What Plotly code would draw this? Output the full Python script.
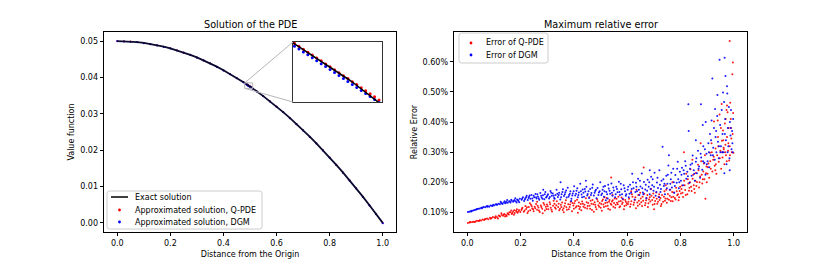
import plotly.graph_objects as go

# ---------------- data : left panel ----------------
distance = [0.0, 0.025, 0.05, 0.075, 0.1, 0.125, 0.15, 0.175, 0.2, 0.225, 0.25, 0.275, 0.3, 0.325, 0.35,
            0.375, 0.4, 0.425, 0.45, 0.475,
            0.4805, 0.482, 0.4835, 0.485, 0.4865, 0.488, 0.4895, 0.491, 0.4925, 0.494, 0.4955, 0.497,
            0.4985, 0.5, 0.5015, 0.503, 0.5045, 0.506, 0.5075, 0.509,
            0.525, 0.55, 0.575, 0.6, 0.625, 0.65, 0.675, 0.7, 0.725, 0.75, 0.775, 0.8, 0.825, 0.85,
            0.875, 0.9, 0.925, 0.95, 0.975, 1.0]
exact_value = [0.05, 0.049969, 0.049875, 0.049719, 0.0495, 0.049219, 0.048875, 0.048469, 0.048, 0.047469,
               0.046875, 0.046219, 0.0455, 0.044719, 0.043875, 0.042969, 0.042, 0.040969, 0.039875, 0.038719,
               0.038456, 0.038384, 0.038311, 0.038239, 0.038166, 0.038093, 0.038019, 0.037946, 0.037872,
               0.037798, 0.037724, 0.03765, 0.037575, 0.0375, 0.037425, 0.03735, 0.037274, 0.037198,
               0.037122, 0.037046,
               0.036219, 0.034875, 0.033469, 0.032, 0.030469, 0.028875, 0.027219, 0.0255, 0.023719, 0.021875,
               0.019969, 0.018, 0.015969, 0.013875, 0.011719, 0.0095, 0.007219, 0.004875, 0.002469, 0.0]
qpde_value = [0.050005, 0.049975, 0.04988, 0.049722, 0.049508, 0.049221, 0.04888, 0.04847, 0.048006, 0.047472,
              0.04688, 0.046221, 0.045505, 0.044722, 0.043879, 0.042972, 0.042004, 0.040972, 0.039878, 0.038722,
              0.038466, 0.038391, 0.038321, 0.038246, 0.038176, 0.0381, 0.038029, 0.037953, 0.037882,
              0.037805, 0.037734, 0.037657, 0.037585, 0.037507, 0.037435, 0.037357, 0.037284, 0.037205,
              0.037132, 0.037053,
              0.036222, 0.034878, 0.033472, 0.032003, 0.030472, 0.028878, 0.027222, 0.025503, 0.023722,
              0.021878, 0.019972, 0.018003, 0.015972, 0.013878, 0.011722, 0.009503, 0.007222, 0.004878,
              0.002472, 0.000003]
dgm_value = [0.04994, 0.049909, 0.049815, 0.049659, 0.04944, 0.049159, 0.048815, 0.048409, 0.04794, 0.047409,
             0.046815, 0.046159, 0.04544, 0.044659, 0.043815, 0.042909, 0.04194, 0.040909, 0.039815, 0.038659,
             0.038396, 0.038324, 0.038251, 0.038179, 0.038106, 0.038033, 0.037959, 0.037886, 0.037812,
             0.037738, 0.037664, 0.03759, 0.037515, 0.03744, 0.037365, 0.03729, 0.037214, 0.037138,
             0.037062, 0.036986,
             0.036159, 0.034815, 0.033409, 0.03194, 0.030409, 0.028815, 0.027159, 0.02544, 0.023659,
             0.021815, 0.019909, 0.01794, 0.015909, 0.013815, 0.011659, 0.00944, 0.007159, 0.004815,
             0.002409, -0.00006]

# ---------------- data : right panel (distance, relative error in %) ----------------
qpde_error = [
    (0.002, 0.065), (0.008, 0.066), (0.013, 0.067), (0.019, 0.068), (0.024, 0.069), (0.031, 0.070),
    (0.036, 0.072), (0.041, 0.071), (0.047, 0.074), (0.052, 0.073), (0.058, 0.076), (0.063, 0.075),
    (0.069, 0.078), (0.074, 0.080), (0.079, 0.077), (0.085, 0.082), (0.091, 0.081), (0.096, 0.085),
    (0.102, 0.083), (0.107, 0.087), (0.112, 0.084), (0.118, 0.090), (0.123, 0.086), (0.129, 0.092),
    (0.134, 0.089), (0.139, 0.095), (0.145, 0.091), (0.151, 0.097), (0.156, 0.093), (0.162, 0.100),
    (0.167, 0.095), (0.172, 0.103), (0.178, 0.098), (0.183, 0.105), (0.189, 0.099), (0.194, 0.108),
    (0.199, 0.101), (0.115, 0.080), (0.148, 0.088), (0.175, 0.092), (0.186, 0.110), (0.165, 0.106),
    (0.128, 0.097), (0.010, 0.068), (0.028, 0.068), (0.045, 0.072), (0.066, 0.077), (0.088, 0.079),
    (0.105, 0.081), (0.121, 0.088), (0.137, 0.092), (0.153, 0.095), (0.169, 0.098), (0.185, 0.102),
    (0.192, 0.104), (0.158, 0.100), (0.142, 0.086), (0.176, 0.107),
    (0.203, 0.108), (0.207, 0.115), (0.212, 0.102), (0.218, 0.121), (0.221, 0.111), (0.226, 0.098),
    (0.231, 0.118), (0.236, 0.107), (0.239, 0.125), (0.244, 0.113), (0.249, 0.104), (0.253, 0.119),
    (0.258, 0.128), (0.262, 0.109), (0.267, 0.116), (0.272, 0.101), (0.276, 0.123), (0.281, 0.112),
    (0.286, 0.131), (0.291, 0.106), (0.295, 0.119), (0.299, 0.126), (0.304, 0.110), (0.309, 0.134),
    (0.313, 0.115), (0.318, 0.103), (0.322, 0.122), (0.327, 0.129), (0.332, 0.112), (0.336, 0.137),
    (0.341, 0.118), (0.345, 0.107), (0.351, 0.125), (0.356, 0.133), (0.361, 0.114), (0.365, 0.121),
    (0.370, 0.140), (0.374, 0.109), (0.379, 0.127), (0.384, 0.118), (0.388, 0.135), (0.393, 0.104),
    (0.398, 0.123), (0.402, 0.130), (0.407, 0.116), (0.412, 0.142), (0.417, 0.121), (0.421, 0.111),
    (0.426, 0.128), (0.431, 0.136), (0.436, 0.119), (0.440, 0.125), (0.445, 0.147), (0.450, 0.113),
    (0.454, 0.131), (0.459, 0.122), (0.463, 0.139), (0.468, 0.108), (0.473, 0.127), (0.478, 0.134),
    (0.482, 0.118), (0.487, 0.144), (0.492, 0.124), (0.497, 0.131), (0.501, 0.115), (0.506, 0.138),
    (0.511, 0.126), (0.515, 0.150), (0.520, 0.120), (0.525, 0.133), (0.529, 0.112), (0.534, 0.141),
    (0.538, 0.129), (0.543, 0.136), (0.548, 0.119), (0.553, 0.146), (0.557, 0.125), (0.562, 0.132),
    (0.567, 0.152), (0.571, 0.117), (0.576, 0.138), (0.581, 0.128), (0.585, 0.143), (0.590, 0.121),
    (0.595, 0.135), (0.599, 0.130), (0.235, 0.130), (0.283, 0.097), (0.324, 0.139), (0.362, 0.100),
    (0.415, 0.099), (0.458, 0.150), (0.505, 0.105), (0.545, 0.158), (0.588, 0.110), (0.262, 0.135),
    (0.475, 0.102), (0.540, 0.216),
    (0.205, 0.112), (0.215, 0.106), (0.224, 0.117), (0.229, 0.104), (0.242, 0.120), (0.247, 0.110),
    (0.255, 0.114), (0.264, 0.122), (0.269, 0.106), (0.278, 0.118), (0.289, 0.125), (0.297, 0.111),
    (0.302, 0.120), (0.311, 0.127), (0.316, 0.109), (0.329, 0.116), (0.334, 0.124), (0.343, 0.129),
    (0.348, 0.112), (0.353, 0.118), (0.358, 0.108), (0.367, 0.130), (0.372, 0.117), (0.381, 0.110),
    (0.386, 0.126), (0.395, 0.131), (0.400, 0.112), (0.405, 0.138), (0.410, 0.120), (0.419, 0.133),
    (0.423, 0.118), (0.428, 0.107), (0.434, 0.129), (0.442, 0.115), (0.448, 0.134), (0.452, 0.121),
    (0.461, 0.112), (0.466, 0.129), (0.470, 0.141), (0.480, 0.125), (0.485, 0.110), (0.490, 0.137),
    (0.495, 0.119), (0.503, 0.128), (0.509, 0.143), (0.513, 0.118), (0.518, 0.131), (0.523, 0.148),
    (0.527, 0.122), (0.532, 0.135), (0.536, 0.109), (0.541, 0.125), (0.546, 0.140), (0.551, 0.131),
    (0.555, 0.115), (0.560, 0.145), (0.565, 0.127), (0.569, 0.136), (0.574, 0.120), (0.579, 0.149),
    (0.583, 0.133), (0.593, 0.141), (0.597, 0.124),
    (0.603, 0.128), (0.607, 0.145), (0.611, 0.119), (0.616, 0.137), (0.620, 0.152), (0.624, 0.125),
    (0.629, 0.141), (0.633, 0.114), (0.638, 0.133), (0.642, 0.158), (0.647, 0.127), (0.651, 0.146),
    (0.656, 0.121), (0.660, 0.139), (0.664, 0.162), (0.669, 0.131), (0.673, 0.148), (0.678, 0.118),
    (0.682, 0.143), (0.687, 0.136), (0.691, 0.155), (0.696, 0.125), (0.700, 0.149), (0.705, 0.138),
    (0.709, 0.166), (0.713, 0.129), (0.718, 0.152), (0.722, 0.141), (0.727, 0.121), (0.731, 0.158),
    (0.735, 0.135), (0.740, 0.170), (0.744, 0.146), (0.749, 0.132), (0.753, 0.161), (0.757, 0.142),
    (0.762, 0.175), (0.766, 0.150), (0.771, 0.137), (0.775, 0.166), (0.779, 0.148), (0.784, 0.182),
    (0.788, 0.157), (0.793, 0.140), (0.797, 0.171), (0.662, 0.249), (0.615, 0.170), (0.701, 0.110),
    (0.745, 0.190), (0.770, 0.200), (0.690, 0.178), (0.635, 0.175),
    (0.605, 0.135), (0.613, 0.127), (0.618, 0.160), (0.626, 0.133), (0.631, 0.150), (0.640, 0.122),
    (0.644, 0.139), (0.649, 0.165), (0.653, 0.134), (0.658, 0.152), (0.667, 0.124), (0.671, 0.140),
    (0.676, 0.158), (0.680, 0.130), (0.685, 0.150), (0.694, 0.141), (0.698, 0.163), (0.703, 0.128),
    (0.711, 0.145), (0.716, 0.135), (0.720, 0.160), (0.725, 0.148), (0.729, 0.128), (0.738, 0.152),
    (0.742, 0.139), (0.747, 0.175), (0.751, 0.145), (0.760, 0.155), (0.764, 0.138), (0.769, 0.168),
    (0.773, 0.152), (0.782, 0.143), (0.786, 0.170), (0.791, 0.160), (0.795, 0.150), (0.799, 0.185),
    (0.802, 0.163), (0.806, 0.189), (0.810, 0.151), (0.814, 0.205), (0.818, 0.174), (0.822, 0.228),
    (0.826, 0.160), (0.830, 0.196), (0.834, 0.182), (0.838, 0.243), (0.842, 0.171), (0.846, 0.212),
    (0.850, 0.190), (0.854, 0.165), (0.858, 0.231), (0.862, 0.201), (0.866, 0.258), (0.870, 0.183),
    (0.874, 0.219), (0.878, 0.270), (0.882, 0.196), (0.886, 0.236), (0.890, 0.210), (0.894, 0.145),
    (0.898, 0.252), (0.813, 0.300), (0.845, 0.275), (0.876, 0.330), (0.892, 0.290),
    (0.804, 0.178), (0.808, 0.165), (0.816, 0.190), (0.820, 0.158), (0.828, 0.210), (0.832, 0.172),
    (0.836, 0.200), (0.840, 0.185), (0.848, 0.225), (0.852, 0.178), (0.856, 0.205), (0.860, 0.188),
    (0.868, 0.240), (0.872, 0.200), (0.880, 0.225), (0.884, 0.210), (0.888, 0.262), (0.896, 0.230),
    (0.899, 0.200),
    (0.902, 0.228), (0.905, 0.262), (0.908, 0.215), (0.911, 0.298), (0.914, 0.245), (0.917, 0.330),
    (0.920, 0.236), (0.923, 0.275), (0.926, 0.402), (0.929, 0.255), (0.932, 0.312), (0.935, 0.228),
    (0.938, 0.290), (0.941, 0.350), (0.944, 0.268), (0.947, 0.425), (0.950, 0.305), (0.953, 0.245),
    (0.956, 0.338), (0.958, 0.282), (0.960, 0.372), (0.963, 0.310), (0.965, 0.260), (0.967, 0.395),
    (0.969, 0.325), (0.971, 0.290), (0.973, 0.440), (0.975, 0.350), (0.977, 0.433), (0.979, 0.305),
    (0.981, 0.380), (0.983, 0.272), (0.985, 0.669), (0.987, 0.464), (0.989, 0.410), (0.991, 0.345),
    (0.993, 0.300), (0.995, 0.559), (0.997, 0.598), (0.998, 0.430), (0.999, 0.298), (0.975, 0.455),
    (0.955, 0.460), (0.940, 0.405), (0.962, 0.315), (0.985, 0.320),
    (0.903, 0.250), (0.912, 0.270), (0.918, 0.300), (0.925, 0.285), (0.933, 0.260), (0.942, 0.320),
    (0.948, 0.280), (0.957, 0.300), (0.961, 0.340), (0.968, 0.300), (0.974, 0.270), (0.980, 0.330),
    (0.986, 0.290), (0.990, 0.380), (0.996, 0.360), (0.931, 0.240), (0.952, 0.380), (0.970, 0.410),
]
dgm_error = [
    (0.002, 0.101), (0.007, 0.102), (0.012, 0.104), (0.017, 0.105), (0.022, 0.106), (0.027, 0.108),
    (0.032, 0.109), (0.037, 0.111), (0.042, 0.112), (0.047, 0.113), (0.052, 0.115), (0.057, 0.116),
    (0.062, 0.118), (0.067, 0.117), (0.072, 0.120), (0.077, 0.121), (0.082, 0.119), (0.087, 0.123),
    (0.092, 0.122), (0.097, 0.125), (0.102, 0.124), (0.107, 0.127), (0.112, 0.125), (0.117, 0.129),
    (0.122, 0.127), (0.127, 0.131), (0.132, 0.128), (0.137, 0.133), (0.142, 0.130), (0.147, 0.135),
    (0.152, 0.132), (0.157, 0.137), (0.162, 0.133), (0.167, 0.139), (0.172, 0.135), (0.177, 0.141),
    (0.182, 0.137), (0.187, 0.143), (0.192, 0.138), (0.197, 0.145), (0.150, 0.141), (0.180, 0.147),
    (0.125, 0.135), (0.195, 0.134), (0.015, 0.103), (0.035, 0.110), (0.055, 0.114), (0.075, 0.119),
    (0.095, 0.121), (0.110, 0.126), (0.130, 0.130), (0.145, 0.132), (0.160, 0.136), (0.175, 0.138),
    (0.190, 0.141), (0.185, 0.133), (0.165, 0.142), (0.140, 0.137),
    (0.204, 0.142), (0.209, 0.150), (0.213, 0.138), (0.218, 0.147), (0.223, 0.155), (0.227, 0.141),
    (0.232, 0.152), (0.237, 0.145), (0.241, 0.158), (0.246, 0.139), (0.251, 0.150), (0.256, 0.161),
    (0.260, 0.146), (0.265, 0.153), (0.270, 0.142), (0.274, 0.164), (0.279, 0.149), (0.284, 0.157),
    (0.289, 0.144), (0.293, 0.168), (0.298, 0.152), (0.303, 0.160), (0.307, 0.146), (0.312, 0.171),
    (0.317, 0.155), (0.321, 0.163), (0.326, 0.148), (0.331, 0.158), (0.335, 0.175), (0.340, 0.151),
    (0.345, 0.165), (0.349, 0.143), (0.354, 0.160), (0.359, 0.177), (0.363, 0.154), (0.368, 0.167),
    (0.373, 0.149), (0.377, 0.182), (0.382, 0.158), (0.387, 0.170), (0.391, 0.145), (0.396, 0.163),
    (0.401, 0.187), (0.405, 0.156), (0.410, 0.172), (0.415, 0.150), (0.419, 0.166), (0.424, 0.195),
    (0.429, 0.159), (0.433, 0.176), (0.438, 0.152), (0.443, 0.169), (0.447, 0.185), (0.452, 0.161),
    (0.457, 0.148), (0.461, 0.178), (0.466, 0.164), (0.471, 0.193), (0.475, 0.156), (0.480, 0.171),
    (0.485, 0.147), (0.489, 0.181), (0.494, 0.166), (0.499, 0.200), (0.503, 0.158), (0.508, 0.175),
    (0.513, 0.152), (0.517, 0.188), (0.522, 0.168), (0.527, 0.146), (0.531, 0.179), (0.536, 0.162),
    (0.541, 0.196), (0.545, 0.155), (0.550, 0.173), (0.555, 0.150), (0.559, 0.185), (0.564, 0.167),
    (0.569, 0.202), (0.573, 0.158), (0.578, 0.177), (0.583, 0.145), (0.587, 0.190), (0.592, 0.170),
    (0.597, 0.160), (0.350, 0.200), (0.445, 0.205), (0.520, 0.140), (0.390, 0.138), (0.285, 0.175),
    (0.206, 0.146), (0.216, 0.143), (0.221, 0.151), (0.230, 0.148), (0.234, 0.156), (0.244, 0.146),
    (0.249, 0.155), (0.258, 0.150), (0.263, 0.160), (0.268, 0.147), (0.277, 0.155), (0.282, 0.145),
    (0.291, 0.160), (0.296, 0.149), (0.301, 0.156), (0.310, 0.151), (0.315, 0.165), (0.324, 0.155),
    (0.328, 0.145), (0.338, 0.162), (0.343, 0.158), (0.352, 0.150), (0.357, 0.168), (0.366, 0.160),
    (0.371, 0.173), (0.380, 0.152), (0.385, 0.162), (0.394, 0.156), (0.399, 0.170), (0.408, 0.162),
    (0.413, 0.180), (0.417, 0.158), (0.426, 0.170), (0.431, 0.150), (0.436, 0.165), (0.441, 0.178),
    (0.450, 0.156), (0.455, 0.170), (0.464, 0.158), (0.469, 0.182), (0.478, 0.165), (0.483, 0.175),
    (0.492, 0.158), (0.497, 0.170), (0.506, 0.163), (0.511, 0.185), (0.515, 0.170), (0.525, 0.160),
    (0.529, 0.192), (0.534, 0.172), (0.543, 0.165), (0.548, 0.183), (0.557, 0.160), (0.562, 0.178),
    (0.571, 0.168), (0.576, 0.195), (0.581, 0.160), (0.590, 0.180), (0.595, 0.155),
    (0.602, 0.175), (0.606, 0.150), (0.611, 0.192), (0.615, 0.165), (0.619, 0.228), (0.624, 0.180),
    (0.628, 0.143), (0.633, 0.198), (0.637, 0.170), (0.641, 0.212), (0.646, 0.158), (0.650, 0.186),
    (0.655, 0.229), (0.659, 0.166), (0.663, 0.201), (0.668, 0.176), (0.672, 0.147), (0.677, 0.208),
    (0.681, 0.185), (0.685, 0.160), (0.690, 0.218), (0.694, 0.190), (0.699, 0.172), (0.703, 0.232),
    (0.707, 0.155), (0.712, 0.199), (0.716, 0.181), (0.721, 0.240), (0.725, 0.168), (0.729, 0.205),
    (0.733, 0.318), (0.738, 0.188), (0.742, 0.160), (0.747, 0.222), (0.751, 0.195), (0.755, 0.256),
    (0.760, 0.175), (0.764, 0.210), (0.768, 0.183), (0.773, 0.245), (0.777, 0.165), (0.781, 0.224),
    (0.786, 0.198), (0.790, 0.268), (0.794, 0.180), (0.798, 0.235), (0.720, 0.150), (0.757, 0.290),
    (0.685, 0.240),
    (0.604, 0.185), (0.609, 0.162), (0.617, 0.178), (0.622, 0.200), (0.631, 0.168), (0.635, 0.185),
    (0.644, 0.175), (0.648, 0.205), (0.657, 0.180), (0.661, 0.160), (0.670, 0.192), (0.675, 0.172),
    (0.683, 0.200), (0.688, 0.178), (0.696, 0.210), (0.701, 0.185), (0.710, 0.168), (0.714, 0.215),
    (0.723, 0.192), (0.727, 0.178), (0.736, 0.210), (0.740, 0.195), (0.749, 0.180), (0.753, 0.225),
    (0.762, 0.195), (0.766, 0.232), (0.775, 0.200), (0.779, 0.188), (0.788, 0.245), (0.792, 0.210),
    (0.796, 0.200),
    (0.802, 0.205), (0.806, 0.248), (0.810, 0.190), (0.814, 0.228), (0.818, 0.270), (0.822, 0.212),
    (0.826, 0.235), (0.830, 0.459), (0.831, 0.370), (0.834, 0.198), (0.838, 0.258), (0.842, 0.222),
    (0.846, 0.289), (0.850, 0.240), (0.854, 0.205), (0.858, 0.268), (0.862, 0.230), (0.866, 0.305),
    (0.870, 0.252), (0.874, 0.215), (0.877, 0.459), (0.878, 0.282), (0.882, 0.242), (0.886, 0.320),
    (0.890, 0.265), (0.894, 0.225), (0.898, 0.295), (0.884, 0.390), (0.858, 0.340), (0.895, 0.400),
    (0.804, 0.225), (0.812, 0.240), (0.820, 0.255), (0.828, 0.220), (0.836, 0.245), (0.844, 0.262),
    (0.852, 0.228), (0.860, 0.280), (0.868, 0.245), (0.876, 0.295), (0.885, 0.270), (0.892, 0.310),
    (0.899, 0.260),
    (0.902, 0.270), (0.905, 0.330), (0.908, 0.250), (0.911, 0.360), (0.914, 0.290), (0.917, 0.405),
    (0.920, 0.545), (0.923, 0.315), (0.926, 0.380), (0.929, 0.275), (0.930, 0.443), (0.932, 0.350),
    (0.935, 0.300), (0.938, 0.420), (0.939, 0.490), (0.941, 0.335), (0.944, 0.280), (0.947, 0.607),
    (0.949, 0.390), (0.952, 0.320), (0.955, 0.440), (0.958, 0.360), (0.960, 0.498), (0.962, 0.300),
    (0.964, 0.467), (0.966, 0.614), (0.968, 0.410), (0.969, 0.553), (0.971, 0.340), (0.973, 0.260),
    (0.975, 0.519), (0.976, 0.495), (0.978, 0.380), (0.980, 0.320), (0.982, 0.450), (0.984, 0.280),
    (0.986, 0.400), (0.988, 0.355), (0.990, 0.440), (0.992, 0.310), (0.994, 0.370), (0.996, 0.300),
    (0.998, 0.410), (0.965, 0.230), (0.950, 0.300), (0.985, 0.240),
    (0.907, 0.300), (0.915, 0.340), (0.922, 0.290), (0.934, 0.370), (0.945, 0.320), (0.957, 0.300),
    (0.967, 0.360), (0.977, 0.300), (0.989, 0.380), (0.995, 0.330),
]

value_ticks = [0.0, 0.01, 0.02, 0.03, 0.04, 0.05]
error_ticks = [0.1, 0.2, 0.3, 0.4, 0.5, 0.6]
error_tick_labels = ["0.10%", "0.20%", "0.30%", "0.40%", "0.50%", "0.60%"]
distance_ticks = [0.0, 0.2, 0.4, 0.6, 0.8, 1.0]

# ---------------- layout helpers ----------------
W, H = 830, 267
FONT = "DejaVu Sans"
FS = 8.0
RED, BLUE = "#ff0000", "#0000ff"


def px(x):
    return x / W


def py(y):
    return 1 - y / H


LEFT = (104, 396)
RIGHT = (454, 747)
TOP, BOTTOM = 32, 232
INSET = (293, 382, 42, 102)  # x0, x1, ytop, ybottom in px
INSET_XR = [0.48, 0.51]
INSET_YR = [0.0370, 0.0385]
MAIN_XR = [-0.05, 1.05]
MAIN_YR = [-0.0025, 0.0525]

fig = go.Figure()

# left panel
fig.add_trace(go.Scatter(x=distance, y=qpde_value, mode="markers", name="Approximated solution, Q-PDE",
                         marker=dict(color=RED, size=2), xaxis="x", yaxis="y", showlegend=False))
fig.add_trace(go.Scatter(x=distance, y=dgm_value, mode="markers", name="Approximated solution, DGM",
                         marker=dict(color=BLUE, size=2), xaxis="x", yaxis="y", showlegend=False))
fig.add_trace(go.Scatter(x=distance, y=exact_value, mode="lines", name="Exact solution",
                         line=dict(color="#0a0a30", width=1.8), xaxis="x", yaxis="y", showlegend=False))

# inset (zoom on the curve)
fig.add_trace(go.Scatter(x=distance, y=qpde_value, mode="markers", marker=dict(color=RED, size=3),
                         xaxis="x3", yaxis="y3", showlegend=False))
fig.add_trace(go.Scatter(x=distance, y=dgm_value, mode="markers", marker=dict(color=BLUE, size=3),
                         xaxis="x3", yaxis="y3", showlegend=False))
fig.add_trace(go.Scatter(x=distance, y=exact_value, mode="lines", line=dict(color="black", width=1.5),
                         xaxis="x3", yaxis="y3", showlegend=False))

# right panel
fig.add_trace(go.Scatter(x=[p[0] for p in qpde_error], y=[p[1] for p in qpde_error], mode="markers",
                         name="Error of Q-PDE", marker=dict(color=RED, size=2, opacity=0.9),
                         xaxis="x2", yaxis="y2", showlegend=False))
fig.add_trace(go.Scatter(x=[p[0] for p in dgm_error], y=[p[1] for p in dgm_error], mode="markers",
                         name="Error of DGM", marker=dict(color=BLUE, size=2, opacity=0.9),
                         xaxis="x2", yaxis="y2", showlegend=False))

tickfont = dict(family=FONT, size=FS, color="black")
titlefont = dict(family=FONT, size=FS, color="black")
common = dict(showgrid=False, zeroline=False, showline=True, mirror=True, linecolor="black",
              linewidth=0.8, ticks="outside", ticklen=3.5, tickwidth=0.8, tickcolor="black",
              tickfont=tickfont, automargin=False)

fig.update_layout(
    width=W, height=H, margin=dict(l=0, r=0, t=0, b=0),
    paper_bgcolor="white", plot_bgcolor="white", showlegend=False,
    xaxis=dict(domain=[px(LEFT[0]), px(LEFT[1])], range=MAIN_XR, tickvals=distance_ticks,
               tickformat=".1f", anchor="y",
               title=dict(text="Distance from the Origin", font=titlefont, standoff=4), **common),
    yaxis=dict(domain=[py(BOTTOM), py(TOP)], range=MAIN_YR, tickvals=value_ticks, tickformat=".2f",
               anchor="x", title=dict(text="Value function", font=titlefont, standoff=4), **common),
    xaxis2=dict(domain=[px(RIGHT[0]), px(RIGHT[1])], range=[-0.05, 1.05], tickvals=distance_ticks,
                tickformat=".1f", anchor="y2",
                title=dict(text="Distance from the Origin", font=titlefont, standoff=4), **common),
    yaxis2=dict(domain=[py(BOTTOM), py(TOP)], range=[0.0348, 0.6992], tickvals=error_ticks,
                ticktext=error_tick_labels, anchor="x2",
                title=dict(text="Relative Error", font=titlefont, standoff=3), **common),
    xaxis3=dict(domain=[px(INSET[0]), px(INSET[1])], range=INSET_XR, anchor="y3", showgrid=False,
                zeroline=False, showline=True, mirror=True, linecolor="#333333", linewidth=1,
                showticklabels=False, ticks=""),
    yaxis3=dict(domain=[py(INSET[3]), py(INSET[2])], range=INSET_YR, anchor="x3", showgrid=False,
                zeroline=False, showline=True, mirror=True, linecolor="#333333", linewidth=1,
                showticklabels=False, ticks=""),
)

shapes = []
annotations = []


def data_to_paper(xv, yv):
    fx = (xv - MAIN_XR[0]) / (MAIN_XR[1] - MAIN_XR[0])
    fy = (yv - MAIN_YR[0]) / (MAIN_YR[1] - MAIN_YR[0])
    return px(LEFT[0]) + fx * (px(LEFT[1]) - px(LEFT[0])), py(BOTTOM) + fy * (py(TOP) - py(BOTTOM))


rx0, ry0 = data_to_paper(INSET_XR[0], INSET_YR[0])
rx1, ry1 = data_to_paper(INSET_XR[1], INSET_YR[1])
GRAY = "#b5b5b5"
shapes.append(dict(type="rect", xref="paper", yref="paper", x0=rx0, y0=ry0, x1=rx1, y1=ry1,
                   line=dict(color=GRAY, width=1)))
shapes.append(dict(type="line", xref="paper", yref="paper", x0=rx0, y0=ry1, x1=px(INSET[0]), y1=py(INSET[2]),
                   line=dict(color=GRAY, width=1)))
shapes.append(dict(type="line", xref="paper", yref="paper", x0=rx0, y0=ry0, x1=px(INSET[0]), y1=py(INSET[3]),
                   line=dict(color=GRAY, width=1)))


def rounded_box(x0, x1, y0, y1, r=2.5):
    p = (f"M {px(x0 + r)},{py(y0)} L {px(x1 - r)},{py(y0)} Q {px(x1)},{py(y0)} {px(x1)},{py(y0 + r)} "
         f"L {px(x1)},{py(y1 - r)} Q {px(x1)},{py(y1)} {px(x1 - r)},{py(y1)} "
         f"L {px(x0 + r)},{py(y1)} Q {px(x0)},{py(y1)} {px(x0)},{py(y1 - r)} "
         f"L {px(x0)},{py(y0 + r)} Q {px(x0)},{py(y0)} {px(x0 + r)},{py(y0)} Z")
    return dict(type="path", xref="paper", yref="paper", path=p, fillcolor="rgba(255,255,255,0.8)",
                line=dict(color="#cccccc", width=1))


def dot(cx, cy, color, r=1.4):
    return dict(type="circle", xref="paper", yref="paper", x0=px(cx - r), x1=px(cx + r),
                y0=py(cy + r), y1=py(cy - r), fillcolor=color, line=dict(width=0))


def label(x, y, text, size=FS, anchor="left"):
    return dict(x=px(x), y=py(y), xref="paper", yref="paper", text=text, showarrow=False,
                xanchor=anchor, yanchor="middle", font=dict(family=FONT, size=size, color="black"))


# left legend
shapes.append(rounded_box(107, 262, 191, 229))
shapes.append(dict(type="line", xref="paper", yref="paper", x0=px(111), x1=px(128), y0=py(197), y1=py(197),
                   line=dict(color="black", width=1.5)))
shapes.append(dot(119.5, 210, RED))
shapes.append(dot(119.5, 222, BLUE))
annotations += [label(133, 197, "Exact solution"),
                label(133, 210, "Approximated solution, Q-PDE"),
                label(133, 222, "Approximated solution, DGM")]

# right legend
shapes.append(rounded_box(459, 548, 33, 63))
shapes.append(dot(471, 43, RED))
shapes.append(dot(471, 55, BLUE))
annotations += [label(484, 43, "Error of Q-PDE"), label(484, 55, "Error of DGM")]

# titles
annotations += [label(250, 24, "Solution of the PDE", size=9.7, anchor="center"),
                label(600.5, 24, "Maximum relative error", size=9.7, anchor="center")]

fig.update_layout(shapes=shapes, annotations=annotations)
fig.write_html("out.html", config={"displayModeBar": False},
               post_script="document.body.style.margin='0';")
